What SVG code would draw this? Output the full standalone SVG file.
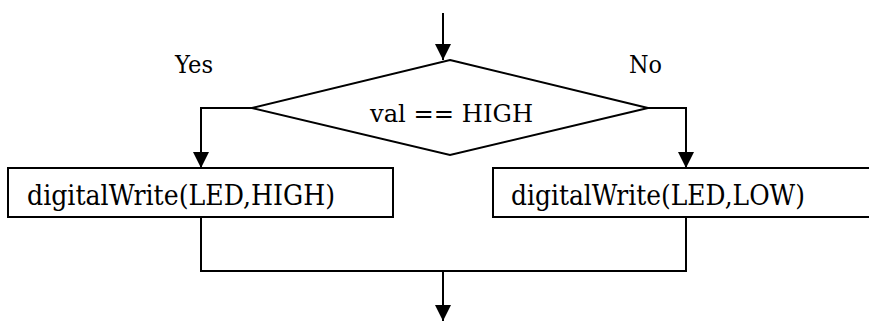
<svg xmlns="http://www.w3.org/2000/svg" width="869" height="322" viewBox="0 0 869 322">
<style>
.shape{fill:#fff;stroke:#000;stroke-width:2}
.line{fill:none;stroke:#000;stroke-width:2}
</style>
<defs>
<marker id="ah" markerWidth="16" markerHeight="16" refX="16" refY="8" orient="auto" markerUnits="userSpaceOnUse">
<path d="M0,0 L16,8 L0,16 Z" fill="#000"/>
</marker>
</defs>
<rect width="869" height="322" fill="#fff"/>
<g font-family="'DejaVu Serif', 'Liberation Serif', serif" fill="#000">
<g id="decision">
<polygon class="shape" points="450,60 648,108 450,155 252,108"/>
<text x="370" y="122" font-size="24" textLength="163" lengthAdjust="spacingAndGlyphs">val == HIGH</text>
</g>
<g id="write-high">
<rect class="shape" x="8" y="168" width="385" height="49"/>
<text x="27" y="205" font-size="27" textLength="308" lengthAdjust="spacingAndGlyphs">digitalWrite(LED,HIGH)</text>
</g>
<g id="write-low">
<rect class="shape" x="493" y="168" width="400" height="49"/>
<text x="511" y="205" font-size="27" textLength="294" lengthAdjust="spacingAndGlyphs">digitalWrite(LED,LOW)</text>
</g>
<g id="labels">
<text x="175" y="73" font-size="24" textLength="38" lengthAdjust="spacingAndGlyphs">Yes</text>
<text x="629" y="73" font-size="24" textLength="33" lengthAdjust="spacingAndGlyphs">No</text>
</g>
</g>
<g id="connectors">
<path class="line" d="M443,13 L443,60" marker-end="url(#ah)"/>
<path class="line" d="M252,108 L201,108 L201,168" marker-end="url(#ah)"/>
<path class="line" d="M648,108 L686,108 L686,168" marker-end="url(#ah)"/>
<path class="line" d="M201,217 L201,271 L686,271 L686,217"/>
<path class="line" d="M443,271 L443,321" marker-end="url(#ah)"/>
</g>
</svg>
